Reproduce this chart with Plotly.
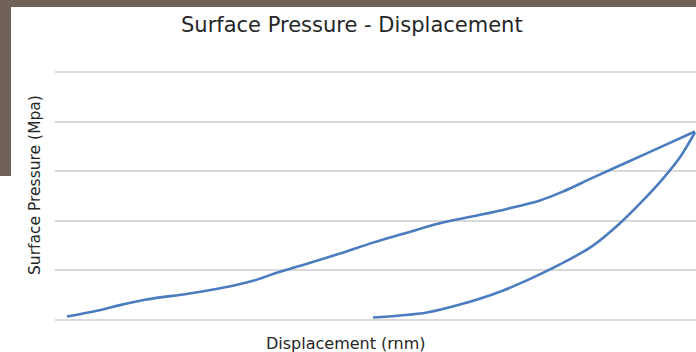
import plotly.graph_objects as go

# Displacement (% of plotted span) and surface pressure (MPa)
load_disp = [1.87, 6.71, 10.45, 14.04, 20.75, 24.49, 28.08, 31.20, 33.85, 36.35, 38.69,
             44.46, 49.61, 54.91, 60.06, 65.21, 70.51, 75.66, 79.25, 83.93, 89.24, 94.38, 99.84]
load_pres = [0.07, 0.19, 0.31, 0.41, 0.53, 0.61, 0.70, 0.80, 0.92, 1.02, 1.11,
             1.34, 1.56, 1.76, 1.95, 2.09, 2.24, 2.41, 2.59, 2.87, 3.18, 3.48, 3.80]

unload_disp = [49.61, 53.82, 58.03, 63.18, 69.42, 73.63, 78.78, 83.93, 88.14, 91.73, 94.85, 97.50, 99.84]
unload_pres = [0.05, 0.09, 0.15, 0.31, 0.57, 0.80, 1.12, 1.50, 1.95, 2.41, 2.85, 3.28, 3.78]

title_text = "Surface Pressure - Displacement"
x_title = "Displacement (rnm)"
y_title = "Surface Pressure (Mpa)"

line_color = "#4a7cbf"
fig = go.Figure()
for xs, ys in ((load_disp, load_pres), (unload_disp, unload_pres)):
    fig.add_trace(go.Scatter(x=xs, y=ys, mode="lines",
                             line=dict(color=line_color, width=2.6, shape="spline", smoothing=1.0),
                             showlegend=False, hoverinfo="skip"))

H = 250.0  # plot-area height in px (bottom at y=320)


def py(p):
    return (320 - p) / H


def px(p):
    return (p - 55) / 641


frame = "#6f6157"
fig.update_layout(
    width=696, height=352,
    margin=dict(l=55, r=0, t=70, b=32),
    paper_bgcolor="white", plot_bgcolor="white",
    font=dict(family="DejaVu Sans", color="#404040"),
    xaxis=dict(range=[0, 100], showgrid=False, zeroline=False, showticklabels=False,
               ticks="", showline=False, fixedrange=True),
    yaxis=dict(range=[0, 5.04], dtick=1, showgrid=True, gridcolor="#d9d9d9", gridwidth=1.5,
               zeroline=True, zerolinecolor="#d9d9d9", zerolinewidth=1.5,
               showticklabels=False, ticks="", showline=False, fixedrange=True),
    shapes=[
        dict(type="rect", xref="paper", yref="paper", x0=px(-5), x1=px(702), y0=py(7), y1=py(-5),
             fillcolor=frame, line=dict(width=0), layer="below"),
        dict(type="rect", xref="paper", yref="paper", x0=px(-5), x1=px(11), y0=py(176), y1=py(-5),
             fillcolor=frame, line=dict(width=0), layer="below"),
    ],
    annotations=[
        dict(text=title_text, xref="paper", yref="paper", x=px(352), y=py(25),
             xanchor="center", yanchor="middle", showarrow=False,
             font=dict(size=21, color="#262626")),
        dict(text=x_title, xref="paper", yref="paper", x=px(346), y=py(343),
             xanchor="center", yanchor="middle", showarrow=False,
             font=dict(size=16, color="#262626")),
        dict(text=y_title, xref="paper", yref="paper", x=px(35), y=py(185),
             xanchor="center", yanchor="middle", showarrow=False, textangle=-90,
             font=dict(size=15.5, color="#262626")),
    ],
)

fig.write_html("out.html", config={"displayModeBar": False},
               post_script="document.body.style.margin='0';document.body.style.overflow='hidden';")
